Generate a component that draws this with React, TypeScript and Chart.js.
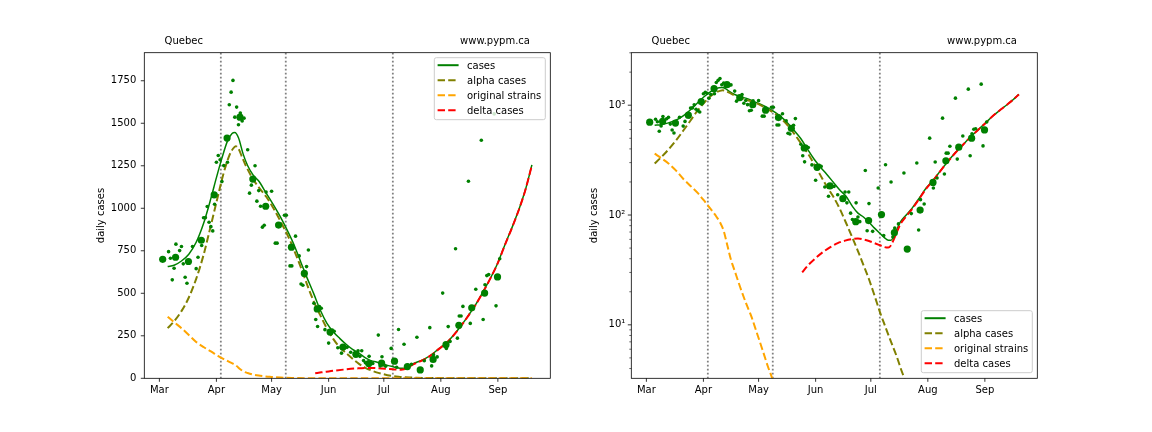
import React, { useEffect, useRef } from "react";
import { Chart, registerables } from "chart.js";

Chart.register(...registerables);

const FONT = '"DejaVu Sans", sans-serif';

// x axis: days since 1 March
const monthTicks = [0, 31, 61, 92, 122, 153, 184];
const monthLabels = ["Mar", "Apr", "May", "Jun", "Jul", "Aug", "Sep"];
const linearYTicks = [0, 250, 500, 750, 1000, 1250, 1500, 1750];
const logMajorTicks = [10, 100, 1000];
const logMinorTicks = [4, 5, 6, 7, 8, 9, 20, 30, 40, 50, 60, 70, 80, 90, 200, 300, 400, 500, 600, 700, 800, 900, 2000, 3000];
const logLabels: Record<number, string> = { 10: "10\u00B9", 100: "10\u00B2", 1000: "10\u00B3" };
const markerDays = [33.4, 68.7, 126.9];

// model: total cases
const caseDays = [4.5, 8, 12, 16, 20, 24, 28, 31, 34, 37, 39.5, 41, 43, 45.5, 48, 51, 54, 58, 62, 66, 70, 73, 77, 80, 84, 87.5, 91, 94.5, 98, 101.5, 105, 108.5, 112, 115, 118, 121, 124, 127, 129.5, 131.5, 133, 134.5, 136, 138, 141, 144, 148, 152, 156, 160, 164, 168, 172, 176, 180, 184, 188, 192, 196, 199, 202.5];
const caseValues = [657, 665, 690, 730, 800, 910, 1058, 1180, 1295, 1395, 1440, 1446, 1415, 1320, 1250, 1195, 1160, 1090, 1020, 945, 860, 790, 680, 598, 495, 400, 325, 274, 235, 200, 170, 148, 120, 104, 96, 86, 76, 68, 62, 59, 59, 64, 73, 86, 99, 113, 140, 175, 208, 255, 309, 370, 435, 510, 590, 680, 790, 895, 1010, 1110, 1255];

// model: alpha cases
const alphaDays = [4.5, 8, 12, 16, 20, 24, 28, 32, 35, 38, 40, 41.5, 43, 45, 47, 51, 55, 58, 62, 66, 70, 73, 77, 80, 84, 87.5, 91, 94.5, 98, 101.5, 105, 108.5, 112, 115, 118, 121, 124, 127, 130, 133, 136, 139, 145, 155, 165, 175, 185, 195, 202.5];
const alphaValues = [295, 335, 395, 475, 585, 725, 900, 1080, 1210, 1310, 1350, 1365, 1350, 1300, 1250, 1170, 1110, 1069, 1000, 920, 835, 760, 650, 560, 450, 370, 295, 232, 183, 148, 115, 85, 62, 47, 35, 26, 18.5, 13, 9.5, 7, 5.2, 3.7, 2.1, 0.8, 0.3, 0.11, 0.04, 0.015, 0.007];

// model: original strains
const origDays = [4.5, 8, 12, 16, 20, 24, 28, 32, 35, 38, 40, 42, 44, 46, 48, 51, 54, 57, 60, 63, 66, 68, 72, 80, 90, 100, 120, 150, 202.5];
const origValues = [362, 330, 295, 255, 214, 184, 158, 131, 113, 97, 86, 72, 53, 39, 31, 22, 16, 12, 8.5, 6, 4.2, 3.4, 2.1, 0.8, 0.25, 0.08, 0.007, 0.0002, 0.000001];

// model: delta cases
const deltaDays = [84.7, 88, 92, 96, 100, 104, 108, 112, 115, 118, 121, 124, 127, 129.5, 131.5, 133, 134.5, 136, 138, 141, 144, 148, 152, 156, 160, 164, 168, 172, 176, 180, 184, 188, 192, 196, 199, 202.5];
const deltaValues = [30, 35, 40.5, 46, 51, 55.5, 58.5, 60.5, 61, 60, 58, 55.5, 53, 51, 50.5, 53, 60, 69, 82, 96, 111, 138, 173, 207, 254, 308, 369, 434, 509, 589, 679, 789, 894, 1009, 1109, 1254];

// reported daily cases [day, value]
const dailyCases: [number, number][] = [
  [5, 745], [6, 706], [7, 579], [8, 647], [9, 789], [11, 751], [12, 775], [13, 673], [14, 594], [15, 559],
  [18, 775], [20, 645], [21, 712], [23, 781], [24, 944], [25, 945], [26, 1010], [27, 918], [28, 892], [29, 867],
  [30, 1024], [31, 1271], [32, 1310], [33, 1285], [34, 1157], [35, 1251], [37, 1271], [38, 1609], [39, 1683], [40, 1752],
  [41, 1536], [42, 1595], [43, 1491], [44, 1560], [45, 1514], [46, 1530], [48, 1344], [49, 1089], [50, 1136], [52, 1250],
  [53, 1042], [54, 1104], [55, 1012], [56, 889], [57, 900], [58, 1095], [61, 1100], [63, 795], [64, 795], [68, 959],
  [69, 959], [71, 661], [72, 661], [74, 836], [76, 720], [77, 555], [78, 547], [80, 657], [81, 755], [84, 441],
  [85, 346], [86, 305], [87, 422], [88, 412], [90, 286], [92, 207], [94, 284], [95, 277], [97, 180], [99, 148],
  [102, 182], [104, 153], [108, 162], [109, 129], [110, 162], [111, 104], [112, 91], [114, 129], [115, 96], [116, 87],
  [119, 254], [120, 72], [121, 127], [123, 71], [126, 176], [129, 65], [130, 287], [133, 200], [134, 63], [135, 76],
  [137, 83], [140, 241], [144, 103], [147, 298], [148, 73], [149, 138], [151, 126], [154, 501], [156, 176], [157, 304],
  [158, 217], [161, 762], [162, 236], [163, 366], [164, 366], [165, 423], [168, 1159], [169, 323], [172, 524], [175, 1400],
  [176, 346], [177, 550], [178, 604], [179, 610], [182, 1555], [183, 426], [185, 703],
];

// weekly points
const weeklyDays = [1.8, 8.8, 15.8, 22.8, 29.8, 36.8, 43.8, 50.8, 57.8, 64.8, 71.8, 78.8, 85.8, 92.8, 99.8, 106.8, 113.8, 120.8, 127.8, 134.8, 141.8, 148.8, 155.8, 162.8, 169.8, 176.8, 183.8];
const weeklyValues = [700, 712, 687, 812, 1079, 1413, 1536, 1172, 1012, 901, 771, 617, 408, 272, 184, 141, 87, 89, 101, 69, 49, 111, 198, 312, 415, 501, 596];

const seriesStyles = [
  { label: "cases", color: "green", width: 1.5, dash: [] as number[] },
  { label: "alpha cases", color: "olive", width: 2, dash: [7.4, 3.2] },
  { label: "original strains", color: "orange", width: 2, dash: [7.4, 3.2] },
  { label: "delta cases", color: "red", width: 2, dash: [7.4, 3.2] },
];

const toXY = (xs: number[], ys: number[]) => xs.map((x, i) => ({ x, y: ys[i] }));

function drawLegend(ctx: CanvasRenderingContext2D, x: number, y: number) {
  const w = 111, h = 62, r = 2;
  ctx.save();
  ctx.beginPath();
  ctx.moveTo(x + r, y);
  ctx.lineTo(x + w - r, y);
  ctx.arcTo(x + w, y, x + w, y + r, r);
  ctx.lineTo(x + w, y + h - r);
  ctx.arcTo(x + w, y + h, x + w - r, y + h, r);
  ctx.lineTo(x + r, y + h);
  ctx.arcTo(x, y + h, x, y + h - r, r);
  ctx.lineTo(x, y + r);
  ctx.arcTo(x, y, x + r, y, r);
  ctx.closePath();
  ctx.fillStyle = "rgba(255,255,255,0.8)";
  ctx.fill();
  ctx.strokeStyle = "#cccccc";
  ctx.lineWidth = 1;
  ctx.stroke();
  ctx.font = `10px ${FONT}`;
  ctx.textAlign = "left";
  ctx.textBaseline = "alphabetic";
  seriesStyles.forEach((s, i) => {
    const cy = y + 7.5 + 15 * i;
    ctx.beginPath();
    ctx.strokeStyle = s.color;
    ctx.lineWidth = s.width === 1.5 ? 2 : s.width;
    ctx.setLineDash(s.dash);
    ctx.moveTo(x + 3.3, cy);
    ctx.lineTo(x + 24.3, cy);
    ctx.stroke();
    ctx.setLineDash([]);
    ctx.fillStyle = "#000";
    ctx.fillText(s.label, x + 32.7, cy + 3.5);
  });
  ctx.restore();
}

const decorPlugin = {
  id: "decor",
  beforeDatasetsDraw(chart: any) {
    const { ctx, chartArea: a, scales } = chart;
    ctx.save();
    ctx.beginPath();
    ctx.rect(a.left, a.top, a.right - a.left, a.bottom - a.top);
    ctx.clip();
    ctx.strokeStyle = "grey";
    ctx.lineWidth = 1.8;
    ctx.setLineDash([1.8, 2.2]);
    for (const d of markerDays) {
      const px = scales.x.getPixelForValue(d);
      ctx.beginPath();
      ctx.moveTo(px, a.top);
      ctx.lineTo(px, a.bottom);
      ctx.stroke();
    }
    ctx.restore();
  },
  afterDatasetsDraw(chart: any) {
    const { ctx, chartArea: a, scales } = chart;
    const o = chart.options.plugins.decor;
    ctx.save();
    // frame
    ctx.strokeStyle = "#000";
    ctx.lineWidth = 0.8;
    ctx.setLineDash([]);
    ctx.strokeRect(a.left, a.top, a.right - a.left, a.bottom - a.top);
    // x ticks
    ctx.beginPath();
    for (const t of scales.x.ticks) {
      const px = scales.x.getPixelForValue(t.value);
      ctx.moveTo(px, a.bottom);
      ctx.lineTo(px, a.bottom + 3.5);
    }
    ctx.stroke();
    // y ticks
    for (const t of scales.y.ticks) {
      const py = scales.y.getPixelForValue(t.value);
      const minor = o.log && !logMajorTicks.includes(t.value);
      ctx.beginPath();
      ctx.lineWidth = minor ? 0.6 : 0.8;
      ctx.moveTo(a.left, py);
      ctx.lineTo(a.left - (minor ? 2 : 3.5), py);
      ctx.stroke();
    }
    // texts
    ctx.fillStyle = "#000";
    ctx.font = `10px ${FONT}`;
    const w = a.right - a.left;
    ctx.textBaseline = "alphabetic";
    ctx.textAlign = "left";
    ctx.fillText("Quebec", a.left + 0.05 * w, a.top - 8.5);
    ctx.textAlign = "right";
    ctx.fillText("www.pypm.ca", a.left + 0.95 * w, a.top - 8.5);
    ctx.save();
    ctx.translate(o.yLabelX, (a.top + a.bottom) / 2);
    ctx.rotate(-Math.PI / 2);
    ctx.textAlign = "center";
    ctx.fillText("daily cases", 0, 0);
    ctx.restore();
    // legend
    if (o.legend === "upper") drawLegend(ctx, a.right - 5 - 111, a.top + 5);
    else drawLegend(ctx, a.right - 5 - 111, a.bottom - 5.6 - 62);
    ctx.restore();
  },
};

function makeConfig(log: boolean): any {
  const datasets: any[] = [
    {
      label: "daily",
      data: dailyCases.map(([x, y]) => ({ x, y })),
      showLine: false,
      pointRadius: 1.8,
      pointBackgroundColor: "green",
      pointBorderWidth: 0,
      order: 0,
    },
    {
      label: "weekly",
      data: toXY(weeklyDays, weeklyValues),
      showLine: false,
      pointRadius: 3.6,
      pointBackgroundColor: "green",
      pointBorderWidth: 0,
      order: 0,
    },
  ];
  const lines = [
    [caseDays, caseValues],
    [alphaDays, alphaValues],
    [origDays, origValues],
    [deltaDays, deltaValues],
  ];
  lines.forEach(([xs, ys], i) => {
    const s = seriesStyles[i];
    datasets.push({
      label: s.label,
      data: toXY(xs, ys),
      borderColor: s.color,
      borderWidth: s.width,
      borderDash: s.dash,
      pointRadius: 0,
      fill: false,
      cubicInterpolationMode: "monotone",
      order: i === 0 ? 5 : i === 3 ? 1 : 4 - i + 1,
    });
  });

  const tickFont = { family: FONT, size: 10 };
  const yScale: any = log
    ? {
        type: "logarithmic",
        min: 3.26,
        max: 3006,
        grid: { display: false, drawTicks: false },
        border: { display: false },
        afterBuildTicks: (s: any) => {
          s.ticks = [...logMinorTicks, ...logMajorTicks].sort((p, q) => p - q).map((v) => ({ value: v }));
        },
        ticks: {
          autoSkip: false,
          font: tickFont,
          color: "#000",
          padding: 6,
          callback: (v: number) => logLabels[v] ?? "",
        },
        afterFit: (s: any) => {
          s.width = 40;
        },
      }
    : {
        type: "linear",
        min: 0,
        max: 1915,
        grid: { display: false, drawTicks: false },
        border: { display: false },
        afterBuildTicks: (s: any) => {
          s.ticks = linearYTicks.map((v) => ({ value: v }));
        },
        ticks: {
          autoSkip: false,
          font: tickFont,
          color: "#000",
          padding: 8,
          callback: (v: number) => String(v),
        },
        afterFit: (s: any) => {
          s.width = 60;
        },
      };

  return {
    type: "line",
    data: { datasets },
    plugins: [decorPlugin],
    options: {
      animation: false,
      responsive: false,
      events: [],
      layout: {
        padding: log
          ? { left: 15.3, right: 114.7, top: 52.7, bottom: 23.7 }
          : { left: 84.3, right: 25.7, top: 52.7, bottom: 23.7 },
      },
      plugins: {
        legend: { display: false },
        tooltip: { enabled: false },
        decor: { log, legend: log ? "lower" : "upper", yLabelX: log ? 20.5 : 104 },
      },
      scales: {
        x: {
          type: "linear",
          min: -8.2,
          max: 212.5,
          grid: { display: false, drawTicks: false },
          border: { display: false },
          afterBuildTicks: (s: any) => {
            s.ticks = monthTicks.map((v) => ({ value: v }));
          },
          ticks: {
            autoSkip: false,
            maxRotation: 0,
            minRotation: 0,
            font: tickFont,
            color: "#000",
            padding: 6,
            callback: (_v: number, i: number) => monthLabels[i],
          },
          afterFit: (s: any) => {
            s.height = 30;
          },
        },
        y: yScale,
      },
    },
  };
}

function ChartPanel({ log, left }: { log: boolean; left: number }) {
  const ref = useRef<HTMLCanvasElement>(null);
  useEffect(() => {
    if (!ref.current) return;
    const chart = new Chart(ref.current, makeConfig(log));
    return () => chart.destroy();
  }, [log]);
  return (
    <canvas
      ref={ref}
      width={576}
      height={432}
      style={{ position: "absolute", left, top: 0, width: 576, height: 432, display: "block" }}
    />
  );
}

export default function App() {
  return (
    <div style={{ position: "absolute", left: 0, top: 0, width: 1152, height: 432, background: "#fff" }}>
      <ChartPanel log={false} left={0} />
      <ChartPanel log={true} left={576} />
    </div>
  );
}
